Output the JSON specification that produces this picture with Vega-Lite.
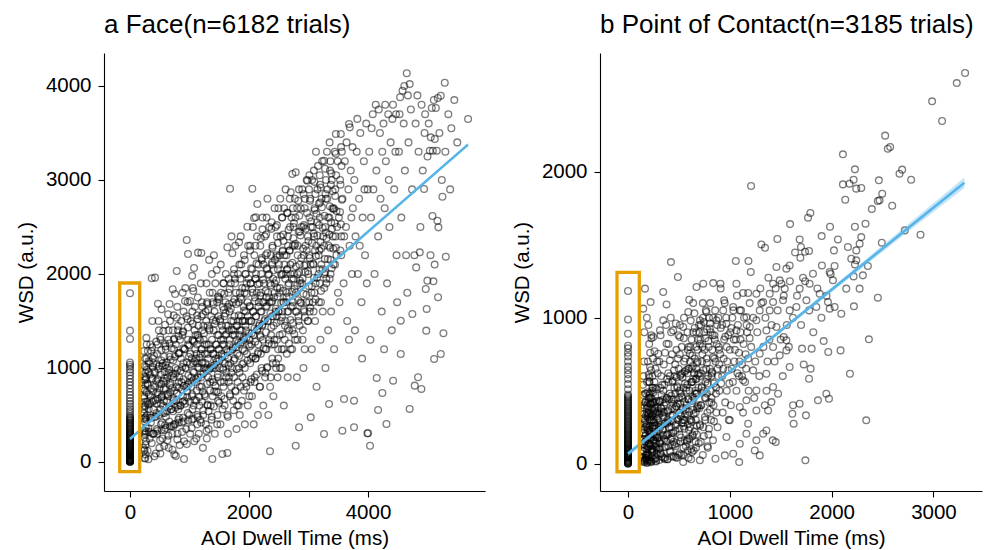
{
"$schema":"https://vega.github.io/schema/vega-lite/v6.json",
"background":"white",
"padding":{"left":16,"top":12,"right":5,"bottom":0},
"spacing":27,
"config":{"view":{"stroke":null},
"axis":{"grid":false,"format":"d","domainColor":"black","tickColor":"black","labelColor":"black","titleColor":"black","labelFont":"Liberation Sans","titleFont":"Liberation Sans","labelFontSize":20.5,"titleFontSize":20.5,"titleFontWeight":"normal","tickSize":6,"domainWidth":1.1,"tickWidth":1.1},
"axisX":{"labelPadding":5,"titlePadding":6},
"axisY":{"labelPadding":7,"titlePadding":9},
"title":{"font":"Liberation Sans","fontSize":26,"fontWeight":"normal","color":"black","anchor":"start","frame":"group","offset":15,"baseline":"alphabetic"}},
"datasets":{
"a":[
{"x":0,"y":0},{"x":0,"y":4},{"x":0,"y":9},{"x":0,"y":15},{"x":0,"y":22},{"x":0,"y":28},{"x":0,"y":36},{"x":0,"y":44},{"x":0,"y":52},{"x":0,"y":61},{"x":0,"y":70},{"x":0,"y":80},{"x":0,"y":91},{"x":0,"y":103},{"x":0,"y":116},{"x":0,"y":128},{"x":0,"y":141},{"x":0,"y":155},{"x":0,"y":170},{"x":0,"y":184},{"x":0,"y":199},{"x":0,"y":214},{"x":0,"y":230},{"x":0,"y":247},{"x":0,"y":263},{"x":0,"y":280},{"x":0,"y":298},{"x":0,"y":316},{"x":0,"y":335},{"x":0,"y":354},{"x":0,"y":374},{"x":0,"y":395},{"x":0,"y":417},{"x":0,"y":440},{"x":0,"y":462},{"x":0,"y":485},{"x":0,"y":510},{"x":0,"y":536},{"x":0,"y":562},{"x":0,"y":590},{"x":0,"y":618},{"x":0,"y":648},{"x":0,"y":680},{"x":0,"y":712},{"x":0,"y":745},{"x":0,"y":780},{"x":0,"y":815},{"x":0,"y":850},{"x":0,"y":885},{"x":0,"y":920},{"x":0,"y":955},{"x":0,"y":985},{"x":0,"y":1012},{"x":0,"y":1035},{"x":0,"y":1058},{"x":0,"y":1309},{"x":0,"y":1397},{"x":0,"y":1795},
{"x":0,"y":2},{"x":0,"y":7},{"x":0,"y":12},{"x":0,"y":18},{"x":0,"y":25},{"x":0,"y":32},{"x":0,"y":40},{"x":0,"y":48},{"x":0,"y":56},{"x":0,"y":65},{"x":0,"y":75},{"x":0,"y":85},{"x":0,"y":97},{"x":0,"y":109},{"x":0,"y":122},{"x":0,"y":134},{"x":0,"y":148},{"x":0,"y":162},{"x":0,"y":177},{"x":0,"y":191},{"x":0,"y":206},{"x":0,"y":222},{"x":0,"y":238},{"x":0,"y":255},{"x":0,"y":271},{"x":0,"y":289},{"x":0,"y":307},{"x":0,"y":325},{"x":0,"y":344},{"x":0,"y":364},{"x":0,"y":384},{"x":0,"y":406},{"x":0,"y":428},{"x":0,"y":451},{"x":0,"y":473},
{"x":235,"y":120},{"x":250,"y":310},{"x":240,"y":520},{"x":262,"y":80},{"x":255,"y":640},{"x":245,"y":260},{"x":270,"y":900},{"x":238,"y":700},{"x":258,"y":950},{"x":275,"y":1100},{"x":248,"y":430},{"x":242,"y":40},{"x":265,"y":360},{"x":252,"y":760},{"x":280,"y":1250},{"x":236,"y":1180},{"x":260,"y":820},{"x":244,"y":130},{"x":268,"y":220},{"x":239,"y":560},{"x":250,"y":470},{"x":272,"y":1010},{"x":246,"y":870},{"x":257,"y":40},{"x":264,"y":330},
{"x":260,"y":180},{"x":290,"y":640},{"x":320,"y":1050},{"x":350,"y":420},{"x":380,"y":890},{"x":410,"y":60},{"x":440,"y":1280},{"x":470,"y":720},{"x":275,"y":1320},{"x":300,"y":820},{"x":330,"y":250},{"x":360,"y":1180},{"x":395,"y":560},{"x":425,"y":950},{"x":455,"y":300},{"x":485,"y":1400},{"x":265,"y":480},{"x":310,"y":30},{"x":345,"y":700},{"x":375,"y":1500},{"x":405,"y":1130},{"x":435,"y":480},{"x":465,"y":880},{"x":495,"y":150},{"x":285,"y":980},{"x":420,"y":1961},{"x":365,"y":1955},{"x":470,"y":1684},{"x":480,"y":1500},{"x":340,"y":1250},{"x":390,"y":1050},{"x":450,"y":620},{"x":315,"y":560},{"x":400,"y":300},{"x":490,"y":1020},
{"x":510,"y":90},{"x":530,"y":1624},{"x":560,"y":1394},{"x":540,"y":420},{"x":570,"y":780},{"x":600,"y":1200},{"x":630,"y":230},{"x":660,"y":980},{"x":690,"y":560},{"x":720,"y":1400},{"x":745,"y":80},{"x":520,"y":620},{"x":550,"y":1050},{"x":580,"y":340},{"x":610,"y":860},{"x":640,"y":1571},{"x":672,"y":1500},{"x":700,"y":1210},{"x":730,"y":680},{"x":515,"y":1300},{"x":545,"y":250},{"x":575,"y":1120},{"x":605,"y":480},{"x":635,"y":720},{"x":665,"y":1680},{"x":695,"y":380},{"x":725,"y":940},{"x":740,"y":1200},{"x":528,"y":830},{"x":590,"y":1460},{"x":620,"y":1000},{"x":650,"y":150},{"x":680,"y":840},{"x":710,"y":300},{"x":735,"y":1560},{"x":555,"y":600},{"x":585,"y":960},{"x":615,"y":640},{"x":645,"y":1300},{"x":718,"y":1837},
{"x":757,"y":1787},{"x":785,"y":2032},{"x":785,"y":1535},{"x":760,"y":400},{"x":790,"y":800},{"x":820,"y":1150},{"x":850,"y":600},{"x":880,"y":1350},{"x":910,"y":220},{"x":940,"y":1000},{"x":970,"y":1700},{"x":995,"y":500},{"x":770,"y":1250},{"x":800,"y":300},{"x":830,"y":900},{"x":860,"y":1500},{"x":890,"y":700},{"x":920,"y":1200},{"x":950,"y":1550},{"x":980,"y":820},{"x":953,"y":2362},{"x":975,"y":2213},{"x":925,"y":1713},{"x":765,"y":1000},{"x":795,"y":1650},{"x":825,"y":470},{"x":855,"y":1100},{"x":885,"y":1800},{"x":915,"y":650},{"x":945,"y":350},{"x":975,"y":1300},{"x":775,"y":650},{"x":805,"y":1400},{"x":835,"y":180},{"x":865,"y":850},{"x":895,"y":1050},{"x":930,"y":1850},{"x":960,"y":750},{"x":990,"y":1120},{"x":840,"y":1300},{"x":870,"y":420},{"x":900,"y":1600},{"x":908,"y":32},{"x":771,"y":64},{"x":812,"y":560},
{"x":1009,"y":1713},{"x":1064,"y":1819},{"x":1076,"y":2064},{"x":1143,"y":2227},{"x":1199,"y":2223},{"x":1010,"y":300},{"x":1030,"y":900},{"x":1050,"y":1300},{"x":1070,"y":600},{"x":1090,"y":1650},{"x":1110,"y":1100},{"x":1130,"y":400},{"x":1150,"y":1450},{"x":1170,"y":800},{"x":1190,"y":1900},{"x":1210,"y":1200},{"x":1230,"y":550},{"x":1245,"y":1000},{"x":1020,"y":1500},{"x":1040,"y":700},{"x":1060,"y":1050},{"x":1080,"y":220},{"x":1100,"y":1350},{"x":1120,"y":850},{"x":1140,"y":1750},{"x":1160,"y":1000},{"x":1180,"y":450},{"x":1200,"y":1550},{"x":1220,"y":750},{"x":1240,"y":1300},{"x":1015,"y":1150},{"x":1035,"y":450},{"x":1055,"y":1850},{"x":1075,"y":950},{"x":1095,"y":1200},{"x":1115,"y":650},{"x":1135,"y":1050},{"x":1155,"y":300},{"x":1175,"y":1300},{"x":1195,"y":900},{"x":1215,"y":1650},{"x":1235,"y":1450},{"x":1025,"y":800},{"x":1085,"y":1400},{"x":1125,"y":1250},{"x":1165,"y":600},{"x":1205,"y":1050},{"x":1045,"y":1980},{"x":1185,"y":1150},{"x":1225,"y":150},
{"x":1260,"y":700},{"x":1280,"y":1500},{"x":1300,"y":1000},{"x":1320,"y":350},{"x":1340,"y":1800},{"x":1360,"y":1200},{"x":1384,"y":32},{"x":1400,"y":850},{"x":1420,"y":1600},{"x":1440,"y":1100},{"x":1457,"y":2043},{"x":1470,"y":500},{"x":1490,"y":1350},{"x":1255,"y":1250},{"x":1275,"y":400},{"x":1295,"y":1700},{"x":1315,"y":900},{"x":1335,"y":1400},{"x":1355,"y":600},{"x":1375,"y":2000},{"x":1395,"y":1150},{"x":1415,"y":750},{"x":1435,"y":1900},{"x":1455,"y":1250},{"x":1475,"y":900},{"x":1495,"y":1750},{"x":1265,"y":1050},{"x":1285,"y":1900},{"x":1305,"y":600},{"x":1325,"y":1250},{"x":1345,"y":850},{"x":1365,"y":1550},{"x":1385,"y":1000},{"x":1405,"y":1400},{"x":1425,"y":300},{"x":1445,"y":1500},{"x":1465,"y":1700},{"x":1485,"y":1100},{"x":1270,"y":1600},{"x":1310,"y":1150},{"x":1350,"y":1000},{"x":1390,"y":1700},{"x":1430,"y":1000},{"x":1480,"y":650},{"x":1290,"y":250},{"x":1330,"y":2150},{"x":1370,"y":450},{"x":1410,"y":2200},{"x":1450,"y":750},{"x":1498,"y":1200},
{"x":1510,"y":1000},{"x":1530,"y":1800},{"x":1552,"y":85},{"x":1570,"y":1300},{"x":1590,"y":600},{"x":1610,"y":2000},{"x":1636,"y":2284},{"x":1636,"y":96},{"x":1650,"y":1100},{"x":1670,"y":1600},{"x":1681,"y":2907},{"x":1700,"y":800},{"x":1720,"y":2220},{"x":1740,"y":1400},{"x":1515,"y":1500},{"x":1535,"y":700},{"x":1555,"y":1250},{"x":1575,"y":1900},{"x":1595,"y":1050},{"x":1615,"y":1450},{"x":1635,"y":500},{"x":1655,"y":1800},{"x":1675,"y":1250},{"x":1695,"y":1900},{"x":1715,"y":1000},{"x":1735,"y":1700},{"x":1745,"y":550},{"x":1520,"y":400},{"x":1540,"y":1150},{"x":1560,"y":1650},{"x":1580,"y":850},{"x":1600,"y":1350},{"x":1620,"y":950},{"x":1640,"y":1650},{"x":1660,"y":1400},{"x":1680,"y":700},{"x":1700,"y":1500},{"x":1725,"y":1200},{"x":1748,"y":2000},{"x":1525,"y":2100},{"x":1565,"y":1000},{"x":1605,"y":1700},{"x":1645,"y":300},{"x":1685,"y":1050},{"x":1705,"y":2400},{"x":1545,"y":1450},{"x":1585,"y":1550},{"x":1625,"y":1200},{"x":1665,"y":900},{"x":1730,"y":1350},
{"x":1760,"y":1100},{"x":1780,"y":1800},{"x":1800,"y":600},{"x":1820,"y":1500},{"x":1832,"y":2337},{"x":1850,"y":1250},{"x":1870,"y":2100},{"x":1890,"y":900},{"x":1910,"y":1650},{"x":1930,"y":400},{"x":1950,"y":1400},{"x":1972,"y":2503},{"x":1990,"y":1950},{"x":1755,"y":1550},{"x":1775,"y":750},{"x":1795,"y":1300},{"x":1815,"y":2000},{"x":1835,"y":1000},{"x":1855,"y":1750},{"x":1875,"y":1400},{"x":1895,"y":1200},{"x":1915,"y":2200},{"x":1935,"y":1500},{"x":1955,"y":800},{"x":1975,"y":1700},{"x":1995,"y":1250},{"x":1765,"y":1950},{"x":1785,"y":1450},{"x":1805,"y":1150},{"x":1825,"y":1700},{"x":1845,"y":500},{"x":1865,"y":1550},{"x":1885,"y":1850},{"x":1905,"y":1050},{"x":1925,"y":1800},{"x":1945,"y":1600},{"x":1965,"y":1150},{"x":1985,"y":2300},{"x":1770,"y":2300},{"x":1810,"y":850},{"x":1860,"y":2400},{"x":1900,"y":1500},{"x":1940,"y":2000},{"x":1980,"y":600},{"x":1790,"y":350},{"x":1840,"y":1350},{"x":1880,"y":650},{"x":1920,"y":1300},{"x":1960,"y":1900},{"x":1998,"y":1500},
{"x":2056,"y":2907},{"x":2140,"y":2745},{"x":2113,"y":2603},{"x":2085,"y":2596},{"x":2226,"y":2475},{"x":2010,"y":1300},{"x":2030,"y":1900},{"x":2050,"y":700},{"x":2070,"y":1600},{"x":2090,"y":2200},{"x":2110,"y":1100},{"x":2130,"y":1800},{"x":2150,"y":500},{"x":2170,"y":1450},{"x":2190,"y":2300},{"x":2210,"y":1000},{"x":2230,"y":1700},{"x":2245,"y":2100},{"x":2015,"y":1650},{"x":2035,"y":1100},{"x":2055,"y":2050},{"x":2075,"y":1350},{"x":2095,"y":900},{"x":2115,"y":1550},{"x":2135,"y":2400},{"x":2155,"y":1250},{"x":2175,"y":1900},{"x":2195,"y":1600},{"x":2215,"y":2150},{"x":2235,"y":1300},{"x":2020,"y":2300},{"x":2040,"y":1500},{"x":2060,"y":1800},{"x":2080,"y":400},{"x":2100,"y":1750},{"x":2120,"y":2000},{"x":2140,"y":1400},{"x":2160,"y":2100},{"x":2180,"y":800},{"x":2200,"y":1800},{"x":2220,"y":1450},{"x":2240,"y":600},{"x":2025,"y":850},{"x":2065,"y":2500},{"x":2105,"y":1950},{"x":2145,"y":1150},{"x":2185,"y":1350},{"x":2225,"y":2600},{"x":2045,"y":1250},{"x":2165,"y":1700},
{"x":2260,"y":1500},{"x":2280,"y":2200},{"x":2300,"y":1000},{"x":2320,"y":1800},{"x":2340,"y":2500},{"x":2353,"y":114},{"x":2370,"y":1350},{"x":2390,"y":2100},{"x":2410,"y":700},{"x":2430,"y":1900},{"x":2450,"y":1600},{"x":2470,"y":2400},{"x":2490,"y":1200},{"x":2255,"y":1900},{"x":2275,"y":1200},{"x":2295,"y":2600},{"x":2315,"y":1500},{"x":2335,"y":2000},{"x":2355,"y":800},{"x":2375,"y":1700},{"x":2395,"y":2300},{"x":2415,"y":1450},{"x":2435,"y":2150},{"x":2455,"y":1000},{"x":2475,"y":1850},{"x":2495,"y":2700},{"x":2265,"y":2400},{"x":2285,"y":1650},{"x":2305,"y":2050},{"x":2325,"y":500},{"x":2345,"y":1700},{"x":2365,"y":2200},{"x":2385,"y":1550},{"x":2405,"y":1950},{"x":2425,"y":1250},{"x":2445,"y":2500},{"x":2465,"y":1550},{"x":2485,"y":2050},{"x":2270,"y":900},{"x":2310,"y":2800},{"x":2350,"y":1900},{"x":2390,"y":1100},{"x":2430,"y":2700},{"x":2480,"y":900},{"x":2290,"y":1750},{"x":2330,"y":1300},{"x":2380,"y":2550},{"x":2420,"y":1750},{"x":2460,"y":2200},{"x":2498,"y":1600},
{"x":2510,"y":1800},{"x":2530,"y":2400},{"x":2550,"y":1200},{"x":2570,"y":2000},{"x":2590,"y":2700},{"x":2610,"y":1500},{"x":2630,"y":2200},{"x":2650,"y":900},{"x":2670,"y":1900},{"x":2690,"y":2500},{"x":2701,"y":2869},{"x":2728,"y":3064},{"x":2740,"y":1700},{"x":2515,"y":2200},{"x":2535,"y":1500},{"x":2555,"y":2600},{"x":2575,"y":1700},{"x":2595,"y":2100},{"x":2615,"y":2900},{"x":2635,"y":1800},{"x":2655,"y":2400},{"x":2675,"y":1400},{"x":2695,"y":2100},{"x":2715,"y":2600},{"x":2735,"y":2300},{"x":2520,"y":1000},{"x":2540,"y":2000},{"x":2560,"y":1600},{"x":2580,"y":2350},{"x":2600,"y":1300},{"x":2620,"y":2000},{"x":2640,"y":2650},{"x":2660,"y":1600},{"x":2680,"y":2250},{"x":2700,"y":1200},{"x":2720,"y":1950},{"x":2745,"y":2500},{"x":2525,"y":2800},{"x":2585,"y":600},{"x":2645,"y":2050},{"x":2705,"y":1650},{"x":2565,"y":2250},{"x":2625,"y":1700},{"x":2685,"y":2800},{"x":2730,"y":1400},
{"x":2785,"y":3082},{"x":2785,"y":173},{"x":2841,"y":369},{"x":2980,"y":2993},{"x":2760,"y":2000},{"x":2780,"y":2600},{"x":2800,"y":1600},{"x":2820,"y":2300},{"x":2840,"y":2900},{"x":2860,"y":1900},{"x":2880,"y":2500},{"x":2900,"y":1300},{"x":2920,"y":2200},{"x":2940,"y":2800},{"x":2960,"y":1700},{"x":2990,"y":2400},{"x":2765,"y":2300},{"x":2790,"y":1800},{"x":2810,"y":2700},{"x":2830,"y":1500},{"x":2850,"y":2100},{"x":2870,"y":2700},{"x":2890,"y":1900},{"x":2910,"y":2500},{"x":2930,"y":1600},{"x":2950,"y":2300},{"x":2970,"y":3000},{"x":2995,"y":2000},{"x":2775,"y":1300},{"x":2815,"y":2000},{"x":2855,"y":2450},{"x":2895,"y":2900},{"x":2935,"y":1200},{"x":2975,"y":2650},{"x":2805,"y":900},{"x":2865,"y":1700},{"x":2915,"y":1000},{"x":2955,"y":2100},{"x":2770,"y":2800},{"x":2985,"y":1500},
{"x":3037,"y":475},{"x":3010,"y":2200},{"x":3030,"y":2800},{"x":3050,"y":1800},{"x":3070,"y":2500},{"x":3090,"y":3100},{"x":3110,"y":1500},{"x":3130,"y":2300},{"x":3150,"y":2900},{"x":3170,"y":2000},{"x":3190,"y":2600},{"x":3210,"y":1700},{"x":3230,"y":3200},{"x":3245,"y":2400},{"x":3020,"y":1600},{"x":3040,"y":2500},{"x":3060,"y":3000},{"x":3080,"y":2100},{"x":3100,"y":2700},{"x":3120,"y":1900},{"x":3140,"y":2550},{"x":3160,"y":3150},{"x":3180,"y":2250},{"x":3200,"y":1300},{"x":3220,"y":2800},{"x":3015,"y":3050},{"x":3055,"y":1200},{"x":3095,"y":2400},{"x":3135,"y":800},{"x":3175,"y":2750},{"x":3215,"y":2100},{"x":3240,"y":1600},{"x":3075,"y":1700},{"x":3195,"y":2950},{"x":3125,"y":3300},
{"x":3261,"y":3205},{"x":3261,"y":298},{"x":3345,"y":617},{"x":3280,"y":2500},{"x":3300,"y":1900},{"x":3320,"y":2900},{"x":3340,"y":2300},{"x":3360,"y":3100},{"x":3380,"y":1600},{"x":3400,"y":2700},{"x":3420,"y":2100},{"x":3440,"y":3300},{"x":3459,"y":3489},{"x":3480,"y":2500},{"x":3495,"y":1800},{"x":3270,"y":2000},{"x":3290,"y":2800},{"x":3310,"y":3300},{"x":3330,"y":1400},{"x":3350,"y":2600},{"x":3370,"y":2000},{"x":3390,"y":3000},{"x":3410,"y":2400},{"x":3430,"y":1200},{"x":3450,"y":2900},{"x":3470,"y":2200},{"x":3490,"y":3200},{"x":3285,"y":1000},{"x":3355,"y":3400},{"x":3425,"y":2700},
{"x":3543,"y":3489},{"x":3569,"y":333},{"x":3597,"y":670},{"x":3681,"y":3596},{"x":3694,"y":3560},{"x":3510,"y":2600},{"x":3530,"y":3000},{"x":3550,"y":2200},{"x":3570,"y":2800},{"x":3590,"y":1900},{"x":3610,"y":3200},{"x":3630,"y":2500},{"x":3650,"y":1500},{"x":3670,"y":2900},{"x":3690,"y":2300},{"x":3710,"y":3100},{"x":3730,"y":2000},{"x":3745,"y":2700},{"x":3520,"y":1700},{"x":3560,"y":3300},{"x":3600,"y":2400},{"x":3640,"y":3400},{"x":3680,"y":1300},{"x":3720,"y":2600},{"x":3740,"y":3350},
{"x":3765,"y":369},{"x":3765,"y":652},{"x":3989,"y":305},{"x":3770,"y":3000},{"x":3790,"y":2400},{"x":3810,"y":3300},{"x":3830,"y":2000},{"x":3850,"y":2800},{"x":3870,"y":3500},{"x":3890,"y":1700},{"x":3910,"y":2600},{"x":3930,"y":3200},{"x":3950,"y":2200},{"x":3970,"y":3600},{"x":3995,"y":2900},{"x":3780,"y":1400},{"x":3820,"y":3650},{"x":3860,"y":2300},{"x":3900,"y":1100},{"x":3940,"y":2900},{"x":3980,"y":1900},
{"x":4001,"y":305},{"x":4034,"y":173},{"x":4146,"y":894},{"x":4169,"y":553},{"x":4241,"y":734},{"x":4020,"y":3300},{"x":4050,"y":2600},{"x":4080,"y":3700},{"x":4110,"y":2000},{"x":4140,"y":3100},{"x":4170,"y":2400},{"x":4200,"y":3500},{"x":4230,"y":1600},{"x":4040,"y":1300},{"x":4090,"y":2900},{"x":4130,"y":3800},{"x":4180,"y":3750},{"x":4210,"y":2800},{"x":4240,"y":3300},{"x":4060,"y":3550},
{"x":4310,"y":404},{"x":4422,"y":865},{"x":4260,"y":3600},{"x":4280,"y":2700},{"x":4300,"y":3200},{"x":4320,"y":1900},{"x":4340,"y":3700},{"x":4360,"y":2500},{"x":4380,"y":3400},{"x":4400,"y":1400},{"x":4420,"y":3800},{"x":4440,"y":2900},{"x":4460,"y":3300},{"x":4480,"y":2200},{"x":4270,"y":1200},{"x":4350,"y":3000},{"x":4410,"y":3650},{"x":4470,"y":3700},{"x":4490,"y":1700},{"x":4290,"y":3800},
{"x":4550,"y":1149},{"x":4550,"y":1503},{"x":4700,"y":564},{"x":4745,"y":1574},{"x":4651,"y":4135},{"x":4540,"y":3880},{"x":4580,"y":3950},{"x":4610,"y":4000},{"x":4670,"y":3900},{"x":4700,"y":4020},{"x":4520,"y":3300},{"x":4560,"y":2600},{"x":4600,"y":3600},{"x":4640,"y":2200},{"x":4680,"y":3400},{"x":4720,"y":3750},{"x":4740,"y":2900},{"x":4530,"y":3700},{"x":4620,"y":3100},{"x":4660,"y":1800},
{"x":4785,"y":812},{"x":4841,"y":901},{"x":4897,"y":777},{"x":4942,"y":2904},{"x":4970,"y":1840},{"x":4979,"y":1397},{"x":4986,"y":1628},{"x":4998,"y":1929},{"x":4800,"y":3600},{"x":4850,"y":3300},{"x":4900,"y":3800},{"x":4950,"y":3500},{"x":4780,"y":2200},{"x":4830,"y":3900},{"x":4880,"y":2500},{"x":4920,"y":3100},{"x":4960,"y":3700},{"x":4810,"y":2070},{"x":4870,"y":2230},
{"x":5038,"y":3312},{"x":5055,"y":3454},{"x":5089,"y":3312},{"x":5106,"y":3851},{"x":5122,"y":3436},{"x":5140,"y":3766},{"x":5072,"y":3766},{"x":5156,"y":3312},{"x":5173,"y":3872},{"x":5223,"y":3897},{"x":5083,"y":2617},{"x":5167,"y":2567},{"x":5183,"y":2496},{"x":5099,"y":1922},{"x":5177,"y":1752},{"x":5223,"y":1149},{"x":5111,"y":1096},{"x":5000,"y":3250},{"x":5050,"y":2200},{"x":5120,"y":2100},{"x":5200,"y":3500},{"x":5240,"y":3000},{"x":5020,"y":3600},
{"x":5250,"y":2822},{"x":5290,"y":4035},{"x":5307,"y":2184},{"x":5267,"y":1369},{"x":5682,"y":3649},{"x":5350,"y":3700},{"x":5400,"y":3550},{"x":5300,"y":3300},{"x":5450,"y":3850},{"x":5380,"y":2900},{"x":5500,"y":3400},
{"x":225,"y":150},{"x":240,"y":330},{"x":232,"y":460},{"x":248,"y":590},{"x":236,"y":680},{"x":228,"y":780},{"x":244,"y":910},{"x":252,"y":1100},
{"x":295,"y":120},{"x":310,"y":360},{"x":288,"y":500},{"x":305,"y":610},{"x":318,"y":720},{"x":292,"y":830},{"x":312,"y":960},{"x":300,"y":1180},
{"x":365,"y":200},{"x":380,"y":300},{"x":360,"y":470},{"x":375,"y":640},{"x":388,"y":750},{"x":368,"y":880},{"x":382,"y":1010},{"x":372,"y":1220},
{"x":435,"y":90},{"x":452,"y":350},{"x":445,"y":520},{"x":430,"y":660},{"x":458,"y":740},{"x":440,"y":860},{"x":448,"y":1040},{"x":462,"y":1250},
{"x":505,"y":230},{"x":520,"y":400},{"x":512,"y":560},{"x":530,"y":690},{"x":498,"y":780},{"x":515,"y":930},{"x":525,"y":1080},{"x":508,"y":1330},
{"x":575,"y":170},{"x":590,"y":390},{"x":585,"y":520},{"x":570,"y":650},{"x":600,"y":770},{"x":578,"y":890},{"x":595,"y":1030},{"x":588,"y":1260},
{"x":645,"y":280},{"x":660,"y":430},{"x":655,"y":590},{"x":640,"y":700},{"x":670,"y":820},{"x":650,"y":950},{"x":665,"y":1120},{"x":648,"y":1400},
{"x":715,"y":130},{"x":730,"y":380},{"x":722,"y":540},{"x":740,"y":660},{"x":710,"y":790},{"x":735,"y":900},{"x":725,"y":1080},{"x":745,"y":1310},
{"x":795,"y":240},{"x":810,"y":450},{"x":805,"y":600},{"x":790,"y":730},{"x":820,"y":850},{"x":798,"y":980},{"x":815,"y":1160},{"x":808,"y":1450},
{"x":875,"y":320},{"x":890,"y":470},{"x":885,"y":640},{"x":870,"y":770},{"x":900,"y":880},{"x":878,"y":1010},{"x":895,"y":1210},{"x":888,"y":1380},
{"x":955,"y":190},{"x":970,"y":520},{"x":962,"y":690},{"x":950,"y":800},{"x":980,"y":920},{"x":958,"y":1060},{"x":975,"y":1250},{"x":968,"y":1520},
{"x":1035,"y":360},{"x":1050,"y":560},{"x":1045,"y":720},{"x":1030,"y":850},{"x":1060,"y":960},{"x":1038,"y":1100},{"x":1055,"y":1290},{"x":1048,"y":1600},
{"x":1115,"y":250},{"x":1130,"y":500},{"x":1125,"y":760},{"x":1110,"y":880},{"x":1140,"y":1010},{"x":1118,"y":1150},{"x":1135,"y":1350},{"x":1128,"y":1560},
{"x":1195,"y":420},{"x":1210,"y":640},{"x":1205,"y":800},{"x":1190,"y":930},{"x":1220,"y":1060},{"x":1198,"y":1200},{"x":1215,"y":1400},{"x":1208,"y":1700},
{"x":1285,"y":330},{"x":1300,"y":610},{"x":1295,"y":830},{"x":1280,"y":980},{"x":1310,"y":1100},{"x":1288,"y":1250},{"x":1305,"y":1450},{"x":1298,"y":1680},
{"x":1375,"y":480},{"x":1390,"y":700},{"x":1385,"y":880},{"x":1370,"y":1020},{"x":1400,"y":1150},{"x":1378,"y":1300},{"x":1395,"y":1510},{"x":1388,"y":1800},
{"x":1465,"y":400},{"x":1480,"y":740},{"x":1475,"y":930},{"x":1460,"y":1070},{"x":1490,"y":1200},{"x":1468,"y":1350},{"x":1485,"y":1550},{"x":1478,"y":1760},
{"x":1555,"y":560},{"x":1570,"y":800},{"x":1565,"y":980},{"x":1550,"y":1120},{"x":1580,"y":1250},{"x":1558,"y":1400},{"x":1575,"y":1620},{"x":1568,"y":1900},
{"x":1645,"y":480},{"x":1660,"y":850},{"x":1655,"y":1030},{"x":1640,"y":1170},{"x":1670,"y":1300},{"x":1648,"y":1450},{"x":1665,"y":1680},{"x":1658,"y":1950},
{"x":1735,"y":650},{"x":1750,"y":900},{"x":1745,"y":1080},{"x":1730,"y":1220},{"x":1760,"y":1350},{"x":1738,"y":1500},{"x":1755,"y":1730},{"x":1748,"y":2050},
{"x":1825,"y":600},{"x":1840,"y":950},{"x":1835,"y":1130},{"x":1820,"y":1270},{"x":1850,"y":1400},{"x":1828,"y":1560},{"x":1845,"y":1800},{"x":1838,"y":2100},
{"x":1915,"y":760},{"x":1930,"y":1000},{"x":1925,"y":1180},{"x":1910,"y":1320},{"x":1940,"y":1450},{"x":1918,"y":1610},{"x":1935,"y":1850},{"x":1928,"y":2150},
{"x":2005,"y":700},{"x":2020,"y":1050},{"x":2015,"y":1230},{"x":2000,"y":1370},{"x":2030,"y":1500},{"x":2008,"y":1660},{"x":2025,"y":1900},{"x":2018,"y":2250},
{"x":2095,"y":850},{"x":2110,"y":1100},{"x":2105,"y":1280},{"x":2090,"y":1420},{"x":2120,"y":1550},{"x":2098,"y":1710},{"x":2115,"y":1950},{"x":2108,"y":2300},
{"x":2185,"y":800},{"x":2200,"y":1150},{"x":2195,"y":1330},{"x":2180,"y":1470},{"x":2210,"y":1600},{"x":2188,"y":1770},{"x":2205,"y":2000},{"x":2198,"y":2380},
{"x":2275,"y":950},{"x":2290,"y":1200},{"x":2285,"y":1380},{"x":2270,"y":1520},{"x":2300,"y":1660},{"x":2278,"y":1820},{"x":2295,"y":2060},{"x":2288,"y":2420},
{"x":2365,"y":900},{"x":2380,"y":1250},{"x":2375,"y":1430},{"x":2360,"y":1580},{"x":2390,"y":1710},{"x":2368,"y":1880},{"x":2385,"y":2120},{"x":2378,"y":2480},
{"x":2455,"y":1050},{"x":2470,"y":1300},{"x":2465,"y":1480},{"x":2450,"y":1630},{"x":2480,"y":1760},{"x":2458,"y":1930},{"x":2475,"y":2180},{"x":2468,"y":2520},
{"x":2545,"y":1000},{"x":2560,"y":1360},{"x":2555,"y":1540},{"x":2540,"y":1690},{"x":2570,"y":1820},{"x":2548,"y":1990},{"x":2565,"y":2240},{"x":2558,"y":2600},
{"x":2635,"y":1150},{"x":2650,"y":1420},{"x":2645,"y":1600},{"x":2630,"y":1750},{"x":2660,"y":1880},{"x":2638,"y":2050},{"x":2655,"y":2300},{"x":2648,"y":2650},
{"x":2725,"y":1200},{"x":2740,"y":1480},{"x":2735,"y":1660},{"x":2720,"y":1810},{"x":2750,"y":1950},{"x":2728,"y":2120},{"x":2745,"y":2380},{"x":2738,"y":2700},
{"x":2815,"y":1300},{"x":2830,"y":1550},{"x":2825,"y":1720},{"x":2810,"y":1880},{"x":2840,"y":2020},{"x":2818,"y":2200},{"x":2835,"y":2450},{"x":2828,"y":2780},
{"x":2905,"y":1400},{"x":2920,"y":1620},{"x":2915,"y":1790},{"x":2900,"y":1950},{"x":2930,"y":2090},{"x":2908,"y":2270},{"x":2925,"y":2520},{"x":2918,"y":2850},
{"x":2995,"y":1500},{"x":3010,"y":1700},{"x":3005,"y":1870},{"x":2990,"y":2030},{"x":3020,"y":2170},{"x":2998,"y":2350},{"x":3015,"y":2600},{"x":3008,"y":2900},
{"x":3085,"y":1600},{"x":3100,"y":1800},{"x":3095,"y":1960},{"x":3080,"y":2110},{"x":3110,"y":2250},{"x":3088,"y":2430},{"x":3105,"y":2680},{"x":3098,"y":2980},
{"x":3175,"y":1700},{"x":3190,"y":1900},{"x":3185,"y":2050},{"x":3170,"y":2200},{"x":3200,"y":2340},{"x":3178,"y":2520},{"x":3195,"y":2760},{"x":3188,"y":3050},
{"x":3265,"y":1850},{"x":3280,"y":2020},{"x":3275,"y":2160},{"x":3260,"y":2300},{"x":3290,"y":2440},{"x":3268,"y":2620},{"x":3285,"y":2850},{"x":3278,"y":3120},
{"x":3355,"y":1950},{"x":3370,"y":2150},{"x":3365,"y":2280},{"x":3350,"y":2420},{"x":3380,"y":2550},{"x":3358,"y":2720},{"x":3375,"y":2950},{"x":3368,"y":3200},
{"x":3445,"y":2100},{"x":3460,"y":2280},{"x":3455,"y":2400},{"x":3440,"y":2540},{"x":3470,"y":2670},{"x":3448,"y":2830},{"x":3465,"y":3050},{"x":3458,"y":3280},
{"x":3535,"y":2250},{"x":3550,"y":2400},{"x":3545,"y":2530},{"x":3530,"y":2660},{"x":3560,"y":2790},{"x":3538,"y":2950},{"x":3555,"y":3150},{"x":3548,"y":3350},
{"x":250,"y":290},{"x":275,"y":450},{"x":255,"y":600},{"x":280,"y":740},{"x":265,"y":880},{"x":245,"y":1020},
{"x":320,"y":320},{"x":345,"y":470},{"x":325,"y":620},{"x":350,"y":780},{"x":335,"y":930},{"x":315,"y":1070},
{"x":390,"y":300},{"x":415,"y":480},{"x":395,"y":650},{"x":420,"y":800},{"x":405,"y":960},{"x":385,"y":1100},
{"x":460,"y":330},{"x":485,"y":500},{"x":465,"y":670},{"x":490,"y":830},{"x":475,"y":990},{"x":455,"y":1150},
{"x":530,"y":340},{"x":555,"y":520},{"x":535,"y":700},{"x":560,"y":860},{"x":545,"y":1020},{"x":525,"y":1190},
{"x":600,"y":360},{"x":625,"y":540},{"x":605,"y":720},{"x":630,"y":900},{"x":615,"y":1060},{"x":595,"y":1230},
{"x":670,"y":380},{"x":695,"y":560},{"x":675,"y":740},{"x":700,"y":920},{"x":685,"y":1090},{"x":665,"y":1260},
{"x":740,"y":400},{"x":765,"y":580},{"x":745,"y":760},{"x":770,"y":940},{"x":755,"y":1120},{"x":735,"y":1300},
{"x":820,"y":420},{"x":845,"y":600},{"x":825,"y":790},{"x":850,"y":970},{"x":835,"y":1160},{"x":815,"y":1340},
{"x":900,"y":430},{"x":925,"y":620},{"x":905,"y":810},{"x":930,"y":1000},{"x":915,"y":1200},{"x":895,"y":1390},
{"x":980,"y":440},{"x":1005,"y":640},{"x":985,"y":840},{"x":1010,"y":1040},{"x":995,"y":1240},{"x":975,"y":1430},
{"x":1060,"y":460},{"x":1085,"y":660},{"x":1065,"y":870},{"x":1090,"y":1070},{"x":1075,"y":1280},{"x":1055,"y":1470},
{"x":1140,"y":480},{"x":1165,"y":690},{"x":1145,"y":900},{"x":1170,"y":1110},{"x":1155,"y":1320},{"x":1135,"y":1520},
{"x":1230,"y":500},{"x":1255,"y":720},{"x":1235,"y":940},{"x":1260,"y":1150},{"x":1245,"y":1370},{"x":1225,"y":1570},
{"x":1320,"y":540},{"x":1345,"y":760},{"x":1325,"y":980},{"x":1350,"y":1200},{"x":1335,"y":1420},{"x":1315,"y":1620},
{"x":1410,"y":590},{"x":1435,"y":810},{"x":1415,"y":1030},{"x":1440,"y":1250},{"x":1425,"y":1470},{"x":1405,"y":1680},
{"x":1500,"y":630},{"x":1525,"y":850},{"x":1505,"y":1080},{"x":1530,"y":1300},{"x":1515,"y":1520},{"x":1495,"y":1730},
{"x":1590,"y":670},{"x":1615,"y":900},{"x":1595,"y":1130},{"x":1620,"y":1360},{"x":1605,"y":1580},{"x":1585,"y":1790},
{"x":1680,"y":720},{"x":1705,"y":950},{"x":1685,"y":1180},{"x":1710,"y":1410},{"x":1695,"y":1630},{"x":1675,"y":1840},
{"x":1770,"y":760},{"x":1795,"y":990},{"x":1775,"y":1220},{"x":1800,"y":1450},{"x":1785,"y":1680},{"x":1765,"y":1900},
{"x":1860,"y":800},{"x":1885,"y":1040},{"x":1865,"y":1270},{"x":1890,"y":1500},{"x":1875,"y":1730},{"x":1855,"y":1950},
{"x":1950,"y":840},{"x":1975,"y":1080},{"x":1955,"y":1320},{"x":1980,"y":1550},{"x":1965,"y":1790},{"x":1945,"y":2000},
{"x":2040,"y":880},{"x":2065,"y":1120},{"x":2045,"y":1370},{"x":2070,"y":1600},{"x":2055,"y":1840},{"x":2035,"y":2060},
{"x":2130,"y":930},{"x":2155,"y":1170},{"x":2135,"y":1410},{"x":2160,"y":1650},{"x":2145,"y":1890},{"x":2125,"y":2110},
{"x":2220,"y":970},{"x":2245,"y":1210},{"x":2225,"y":1460},{"x":2250,"y":1700},{"x":2235,"y":1940},{"x":2215,"y":2170},
{"x":2310,"y":1010},{"x":2335,"y":1260},{"x":2315,"y":1500},{"x":2340,"y":1750},{"x":2325,"y":1990},{"x":2305,"y":2220},
{"x":2400,"y":1050},{"x":2425,"y":1300},{"x":2405,"y":1550},{"x":2430,"y":1800},{"x":2415,"y":2040},{"x":2395,"y":2280},
{"x":2490,"y":1100},{"x":2515,"y":1350},{"x":2495,"y":1600},{"x":2520,"y":1850},{"x":2505,"y":2100},{"x":2485,"y":2330},
{"x":2580,"y":1200},{"x":2605,"y":1450},{"x":2585,"y":1700},{"x":2610,"y":1950},{"x":2595,"y":2200},{"x":2575,"y":2420},
{"x":2670,"y":1260},{"x":2695,"y":1510},{"x":2675,"y":1760},{"x":2700,"y":2000},{"x":2685,"y":2250},{"x":2665,"y":2470},
{"x":2760,"y":1360},{"x":2785,"y":1600},{"x":2765,"y":1840},{"x":2790,"y":2080},{"x":2775,"y":2320},{"x":2755,"y":2540},
{"x":2850,"y":1450},{"x":2875,"y":1690},{"x":2855,"y":1930},{"x":2880,"y":2170},{"x":2865,"y":2410},{"x":2845,"y":2620},
{"x":2940,"y":1540},{"x":2965,"y":1780},{"x":2945,"y":2020},{"x":2970,"y":2250},{"x":2955,"y":2480},{"x":2935,"y":2700},
{"x":3030,"y":1640},{"x":3055,"y":1870},{"x":3035,"y":2100},{"x":3060,"y":2330},{"x":3045,"y":2560},{"x":3025,"y":2780},
{"x":3120,"y":1730},{"x":3145,"y":1960},{"x":3125,"y":2190},{"x":3150,"y":2410},{"x":3135,"y":2640},{"x":3115,"y":2850},
{"x":3210,"y":1820},{"x":3235,"y":2050},{"x":3215,"y":2270},{"x":3240,"y":2490},{"x":3225,"y":2710},{"x":3205,"y":2920},
{"x":3300,"y":1950},{"x":3325,"y":2160},{"x":3305,"y":2380},{"x":3330,"y":2600},{"x":3315,"y":2800},{"x":3295,"y":3000},
{"x":3390,"y":2060},{"x":3415,"y":2270},{"x":3395,"y":2480},{"x":3420,"y":2690},{"x":3405,"y":2880},{"x":3385,"y":3070}
],
"b":[
{"x":0,"y":0},{"x":0,"y":4},{"x":0,"y":9},{"x":0,"y":14},{"x":0,"y":20},{"x":0,"y":27},{"x":0,"y":35},{"x":0,"y":42},{"x":0,"y":50},{"x":0,"y":58},{"x":0,"y":66},{"x":0,"y":75},{"x":0,"y":84},{"x":0,"y":93},{"x":0,"y":103},{"x":0,"y":113},{"x":0,"y":124},{"x":0,"y":135},{"x":0,"y":146},{"x":0,"y":158},{"x":0,"y":170},{"x":0,"y":183},{"x":0,"y":196},{"x":0,"y":210},{"x":0,"y":224},{"x":0,"y":238},{"x":0,"y":252},{"x":0,"y":267},{"x":0,"y":282},{"x":0,"y":298},{"x":0,"y":314},{"x":0,"y":330},{"x":0,"y":347},{"x":0,"y":364},{"x":0,"y":381},{"x":0,"y":399},{"x":0,"y":417},{"x":0,"y":436},{"x":0,"y":455},{"x":0,"y":474},{"x":0,"y":510},{"x":0,"y":545},{"x":0,"y":580},{"x":0,"y":612},{"x":0,"y":640},{"x":0,"y":665},{"x":0,"y":700},{"x":0,"y":735},{"x":0,"y":760},{"x":0,"y":790},{"x":0,"y":808},{"x":0,"y":890},{"x":0,"y":988},{"x":0,"y":1183},
{"x":0,"y":2},{"x":0,"y":6},{"x":0,"y":11},{"x":0,"y":17},{"x":0,"y":23},{"x":0,"y":31},{"x":0,"y":38},{"x":0,"y":46},{"x":0,"y":54},{"x":0,"y":62},{"x":0,"y":70},{"x":0,"y":79},{"x":0,"y":88},{"x":0,"y":98},{"x":0,"y":108},{"x":0,"y":118},{"x":0,"y":129},{"x":0,"y":140},{"x":0,"y":152},{"x":0,"y":164},{"x":0,"y":176},{"x":0,"y":189},{"x":0,"y":203},{"x":0,"y":217},{"x":0,"y":231},{"x":0,"y":245},{"x":0,"y":260},{"x":0,"y":274},{"x":0,"y":290},{"x":0,"y":306},{"x":0,"y":322},{"x":0,"y":338},{"x":0,"y":355},{"x":0,"y":372},{"x":0,"y":390},{"x":0,"y":408},{"x":0,"y":426},{"x":0,"y":445},{"x":0,"y":464},
{"x":160,"y":10},{"x":175,"y":60},{"x":190,"y":120},{"x":205,"y":30},{"x":220,"y":200},{"x":235,"y":80},{"x":250,"y":300},{"x":265,"y":150},{"x":275,"y":20},{"x":170,"y":250},{"x":185,"y":380},{"x":200,"y":180},{"x":215,"y":450},{"x":230,"y":15},{"x":245,"y":520},{"x":260,"y":260},{"x":270,"y":650},{"x":165,"y":130},{"x":195,"y":700},{"x":225,"y":350},{"x":255,"y":90},{"x":180,"y":40},{"x":240,"y":420},{"x":210,"y":560},{"x":280,"y":200},{"x":230,"y":860},{"x":260,"y":770},
{"x":145,"y":90},{"x":152,"y":210},{"x":158,"y":340},{"x":164,"y":20},{"x":172,"y":150},{"x":178,"y":480},{"x":184,"y":260},{"x":190,"y":70},{"x":198,"y":390},{"x":204,"y":610},{"x":210,"y":130},{"x":216,"y":300},{"x":148,"y":540},{"x":168,"y":420},{"x":186,"y":5},{"x":208,"y":220},{"x":194,"y":330},{"x":176,"y":40},{"x":212,"y":470},{"x":156,"y":170},
{"x":150,"y":40},{"x":162,"y":280},{"x":168,"y":150},{"x":174,"y":420},{"x":180,"y":60},{"x":188,"y":560},{"x":194,"y":230},{"x":200,"y":350},{"x":208,"y":20},{"x":214,"y":480},{"x":220,"y":130},{"x":226,"y":640},{"x":234,"y":300},{"x":240,"y":80},{"x":246,"y":420},{"x":158,"y":700},{"x":176,"y":330},{"x":192,"y":10},{"x":210,"y":590},{"x":228,"y":210},{"x":238,"y":520},{"x":248,"y":160},{"x":166,"y":480},{"x":184,"y":250},{"x":202,"y":120},{"x":218,"y":760},{"x":236,"y":380},{"x":152,"y":600},{"x":172,"y":30},{"x":204,"y":450},
{"x":205,"y":50},{"x":212,"y":300},{"x":218,"y":180},{"x":226,"y":450},{"x":232,"y":100},{"x":240,"y":600},{"x":248,"y":240},{"x":256,"y":30},{"x":262,"y":380},{"x":270,"y":520},{"x":278,"y":140},{"x":286,"y":700},{"x":294,"y":280},{"x":208,"y":820},{"x":216,"y":410},{"x":224,"y":10},{"x":236,"y":330},{"x":244,"y":720},{"x":252,"y":160},{"x":260,"y":560},{"x":268,"y":260},{"x":276,"y":430},{"x":284,"y":70},{"x":292,"y":620},{"x":298,"y":360},{"x":230,"y":880},{"x":250,"y":490},{"x":272,"y":350},{"x":290,"y":180},{"x":210,"y":560},
{"x":305,"y":100},{"x":312,"y":420},{"x":318,"y":250},{"x":326,"y":600},{"x":332,"y":50},{"x":340,"y":330},{"x":348,"y":500},{"x":356,"y":170},{"x":364,"y":760},{"x":372,"y":280},{"x":380,"y":450},{"x":388,"y":30},{"x":396,"y":620},{"x":308,"y":700},{"x":316,"y":140},{"x":324,"y":380},{"x":336,"y":540},{"x":344,"y":230},{"x":352,"y":680},{"x":360,"y":40},{"x":368,"y":420},{"x":376,"y":150},{"x":384,"y":580},{"x":392,"y":300},{"x":398,"y":820},{"x":320,"y":880},{"x":350,"y":350},{"x":375,"y":950},{"x":395,"y":200},{"x":330,"y":470},
{"x":405,"y":250},{"x":412,"y":600},{"x":418,"y":80},{"x":426,"y":440},{"x":432,"y":750},{"x":440,"y":330},{"x":448,"y":150},{"x":456,"y":520},{"x":464,"y":680},{"x":472,"y":270},{"x":480,"y":40},{"x":488,"y":410},{"x":496,"y":880},{"x":408,"y":480},{"x":416,"y":330},{"x":424,"y":900},{"x":436,"y":560},{"x":444,"y":210},{"x":452,"y":640},{"x":460,"y":380},{"x":468,"y":120},{"x":476,"y":780},{"x":484,"y":530},{"x":492,"y":300},{"x":498,"y":650},{"x":420,"y":1000},{"x":470,"y":960},{"x":430,"y":180},{"x":490,"y":720},{"x":450,"y":440},
{"x":505,"y":350},{"x":512,"y":600},{"x":520,"y":180},{"x":528,"y":800},{"x":536,"y":450},{"x":544,"y":280},{"x":552,"y":700},{"x":560,"y":550},{"x":568,"y":120},{"x":576,"y":400},{"x":584,"y":900},{"x":592,"y":650},{"x":598,"y":230},{"x":508,"y":750},{"x":516,"y":480},{"x":524,"y":60},{"x":532,"y":620},{"x":540,"y":380},{"x":548,"y":860},{"x":556,"y":300},{"x":564,"y":720},{"x":572,"y":520},{"x":580,"y":160},{"x":588,"y":780},{"x":596,"y":440},{"x":510,"y":950},{"x":550,"y":1000},{"x":590,"y":330},{"x":530,"y":280},{"x":570,"y":640},
{"x":605,"y":500},{"x":612,"y":800},{"x":618,"y":300},{"x":626,"y":650},{"x":634,"y":200},{"x":640,"y":900},{"x":648,"y":450},{"x":656,"y":720},{"x":664,"y":150},{"x":672,"y":580},{"x":680,"y":380},{"x":688,"y":850},{"x":696,"y":620},{"x":608,"y":250},{"x":616,"y":980},{"x":624,"y":560},{"x":632,"y":740},{"x":644,"y":340},{"x":652,"y":1030},{"x":660,"y":480},{"x":668,"y":800},{"x":676,"y":260},{"x":684,"y":700},{"x":692,"y":520},{"x":698,"y":950},{"x":620,"y":100},{"x":650,"y":620},{"x":690,"y":400},{"x":640,"y":1100},{"x":670,"y":900},
{"x":705,"y":600},{"x":712,"y":850},{"x":720,"y":400},{"x":728,"y":700},{"x":736,"y":1000},{"x":744,"y":500},{"x":752,"y":780},{"x":760,"y":300},{"x":768,"y":650},{"x":776,"y":920},{"x":784,"y":550},{"x":792,"y":800},{"x":798,"y":420},{"x":708,"y":260},{"x":716,"y":950},{"x":724,"y":520},{"x":732,"y":800},{"x":740,"y":640},{"x":748,"y":900},{"x":756,"y":450},{"x":764,"y":1050},{"x":772,"y":720},{"x":780,"y":350},{"x":788,"y":600},{"x":796,"y":1000},{"x":715,"y":150},{"x":760,"y":860},{"x":790,"y":200},{"x":735,"y":1100},{"x":775,"y":480},
{"x":805,"y":650},{"x":812,"y":900},{"x":820,"y":450},{"x":828,"y":780},{"x":836,"y":1000},{"x":844,"y":550},{"x":852,"y":850},{"x":860,"y":700},{"x":868,"y":350},{"x":876,"y":950},{"x":884,"y":600},{"x":892,"y":800},{"x":898,"y":500},{"x":808,"y":1100},{"x":816,"y":300},{"x":824,"y":620},{"x":832,"y":880},{"x":848,"y":720},{"x":856,"y":1050},{"x":864,"y":480},{"x":872,"y":820},{"x":880,"y":250},{"x":888,"y":1000},{"x":896,"y":680},{"x":840,"y":400},
{"x":905,"y":750},{"x":915,"y":550},{"x":925,"y":950},{"x":935,"y":650},{"x":945,"y":850},{"x":955,"y":420},{"x":965,"y":1000},{"x":975,"y":700},{"x":985,"y":880},{"x":995,"y":550},{"x":910,"y":1200},{"x":930,"y":350},{"x":950,"y":1100},{"x":970,"y":800},{"x":990,"y":300},
{"x":1005,"y":900},{"x":1020,"y":650},{"x":1035,"y":1050},{"x":1050,"y":780},{"x":1065,"y":500},{"x":1080,"y":950},{"x":1095,"y":700},{"x":1010,"y":400},{"x":1040,"y":850},{"x":1070,"y":1150},{"x":1090,"y":600},{"x":1025,"y":1000},
{"x":1105,"y":850},{"x":1120,"y":600},{"x":1140,"y":1000},{"x":1155,"y":750},{"x":1170,"y":900},{"x":1185,"y":500},{"x":1195,"y":1100},{"x":1130,"y":350},{"x":1160,"y":650},{"x":1110,"y":1050},
{"x":1210,"y":800},{"x":1230,"y":1000},{"x":1250,"y":700},{"x":1270,"y":900},{"x":1290,"y":600},{"x":1310,"y":1100},{"x":1330,"y":800},{"x":1350,"y":1000},{"x":1370,"y":700},{"x":1390,"y":850},{"x":1240,"y":450},{"x":1300,"y":1200},{"x":1360,"y":500},
{"x":1410,"y":950},{"x":1440,"y":700},{"x":1470,"y":1050},{"x":1500,"y":850},{"x":1530,"y":1150},{"x":1560,"y":950},{"x":1590,"y":1250},{"x":1450,"y":1200},{"x":1520,"y":600},{"x":1580,"y":800},
{"x":1620,"y":1000},{"x":1660,"y":1150},{"x":1700,"y":950},{"x":1740,"y":1250},{"x":1780,"y":1050},{"x":1820,"y":900},{"x":1860,"y":1200},{"x":1900,"y":1000},{"x":1950,"y":1150},{"x":1990,"y":1300},
{"x":167,"y":1199},{"x":222,"y":1107},{"x":150,"y":1062},{"x":185,"y":1000},{"x":160,"y":900},{"x":200,"y":950},{"x":346,"y":1176},{"x":379,"y":1091},{"x":422,"y":1381},{"x":490,"y":1279},{"x":601,"y":1123},{"x":592,"y":1039},{"x":673,"y":1210},{"x":739,"y":1233},{"x":837,"y":1237},{"x":908,"y":1233},{"x":944,"y":1119},{"x":1059,"y":1388},{"x":1065,"y":1233},{"x":1183,"y":1388},{"x":1206,"y":1313},{"x":1131,"y":1169},{"x":1180,"y":1169},{"x":1261,"y":1164},{"x":1310,"y":1502},{"x":1346,"y":1479},
{"x":771,"y":1039},{"x":706,"y":982},{"x":542,"y":936},{"x":444,"y":913},{"x":346,"y":982},{"x":314,"y":913},{"x":248,"y":868},{"x":379,"y":822},{"x":510,"y":868},{"x":592,"y":799},{"x":216,"y":662},{"x":297,"y":753},{"x":412,"y":708},{"x":608,"y":753},{"x":706,"y":822},{"x":804,"y":925},{"x":869,"y":982},{"x":935,"y":1050},{"x":1033,"y":1073},{"x":1098,"y":1050},{"x":1163,"y":1004},{"x":967,"y":959},{"x":1065,"y":913},{"x":1196,"y":936},
{"x":1379,"y":1274},{"x":1458,"y":1347},{"x":1507,"y":1233},{"x":1556,"y":1336},{"x":1588,"y":1358},{"x":1425,"y":1233},{"x":1490,"y":1256},{"x":1539,"y":1199},{"x":1392,"y":1164},{"x":1327,"y":1107},{"x":1425,"y":1107},{"x":1294,"y":1050},{"x":1392,"y":1050},{"x":1523,"y":1119},{"x":1588,"y":1050},{"x":1654,"y":1073},{"x":1686,"y":1199},{"x":1719,"y":1274},{"x":1817,"y":1301},{"x":1784,"y":1233},{"x":1752,"y":1119},{"x":1850,"y":1073},{"x":1883,"y":1164},{"x":1981,"y":1313},{"x":2013,"y":1256},{"x":1964,"y":1107},{"x":1981,"y":1062},{"x":2029,"y":1073},{"x":2144,"y":1199},{"x":2095,"y":1027},
{"x":1261,"y":982},{"x":1359,"y":913},{"x":1458,"y":936},{"x":1556,"y":845},{"x":1529,"y":868},{"x":1490,"y":742},{"x":1588,"y":662},{"x":1556,"y":776},{"x":1425,"y":525},{"x":1474,"y":479},{"x":1409,"y":422},{"x":1343,"y":400},{"x":1376,"y":365},{"x":1359,"y":228},{"x":1327,"y":205},{"x":1261,"y":160},{"x":1180,"y":274},{"x":1163,"y":205},{"x":1245,"y":91},{"x":1294,"y":57},{"x":951,"y":57},{"x":1033,"y":68},{"x":1092,"y":11},{"x":859,"y":34},{"x":706,"y":23},{"x":542,"y":11},
{"x":1709,"y":788},{"x":1804,"y":788},{"x":1726,"y":680},{"x":1794,"y":651},{"x":1778,"y":582},{"x":1621,"y":400},{"x":1614,"y":342},{"x":1627,"y":274},{"x":1686,"y":411},{"x":1748,"y":331},{"x":1422,"y":160},{"x":1451,"y":148},{"x":1742,"y":23},{"x":1948,"y":479},{"x":1974,"y":445},{"x":1866,"y":434},{"x":2088,"y":776},{"x":1967,"y":765},{"x":1922,"y":840},{"x":2180,"y":616},{"x":2340,"y":297},{"x":2366,"y":852},{"x":2454,"y":1137},
{"x":1425,"y":799},{"x":1294,"y":753},{"x":1229,"y":639},{"x":1131,"y":571},{"x":1261,"y":502},{"x":1098,"y":388},{"x":1000,"y":297},{"x":1163,"y":434},{"x":1359,"y":616},{"x":1261,"y":365},{"x":967,"y":183},{"x":1098,"y":137},
{"x":3311,"y":2676},{"x":3229,"y":2607},{"x":2987,"y":2482},{"x":3085,"y":2347},{"x":2526,"y":2247},{"x":2552,"y":2157},{"x":2575,"y":2169},{"x":2111,"y":2119},{"x":2229,"y":2016},{"x":2693,"y":2014},{"x":2667,"y":1986},{"x":2781,"y":1945},{"x":2464,"y":1941},{"x":2111,"y":1913},{"x":2176,"y":1918},{"x":2216,"y":1945},{"x":2242,"y":1884},{"x":2291,"y":1888},{"x":2134,"y":1808},{"x":2497,"y":1849},{"x":2471,"y":1804},{"x":2454,"y":1799},{"x":2595,"y":1767},{"x":2395,"y":1744},{"x":1209,"y":1902},{"x":1791,"y":1717},{"x":1768,"y":1685},{"x":1592,"y":1641},{"x":1984,"y":1623},{"x":2229,"y":1623},{"x":2333,"y":1644},{"x":2719,"y":1598},{"x":2873,"y":1568},{"x":2493,"y":1514},{"x":1902,"y":1559},{"x":1467,"y":1539},{"x":1686,"y":1536},{"x":2062,"y":1536},{"x":2291,"y":1552},{"x":2275,"y":1507},{"x":2242,"y":1461},{"x":2160,"y":1484},{"x":2193,"y":1404},{"x":2023,"y":1461},{"x":1699,"y":1484},{"x":1739,"y":1452},{"x":1778,"y":1457},{"x":1693,"y":1411},{"x":1641,"y":1447},{"x":1905,"y":1358},{"x":2029,"y":1354},{"x":2229,"y":1365},{"x":2242,"y":1393},{"x":2356,"y":1354},{"x":2216,"y":1283},{"x":2307,"y":1290},{"x":2275,"y":1199},{"x":2219,"y":1078},
{"x":155,"y":25},{"x":162,"y":110},{"x":170,"y":190},{"x":178,"y":270},{"x":186,"y":350},{"x":194,"y":60},{"x":202,"y":140},{"x":210,"y":230},{"x":218,"y":320},{"x":226,"y":410},{"x":234,"y":45},{"x":242,"y":125},{"x":250,"y":205},{"x":258,"y":285},{"x":266,"y":365},{"x":274,"y":15},{"x":282,"y":95},{"x":290,"y":175},{"x":298,"y":255},{"x":306,"y":335},{"x":314,"y":430},{"x":322,"y":70},{"x":330,"y":160},{"x":338,"y":240},{"x":346,"y":320},{"x":354,"y":400},{"x":362,"y":30},{"x":370,"y":115},{"x":378,"y":195},{"x":386,"y":275},{"x":394,"y":355},{"x":402,"y":440},{"x":410,"y":85},{"x":418,"y":170},{"x":426,"y":250},{"x":434,"y":330},{"x":442,"y":410},{"x":448,"y":50},{"x":158,"y":400},{"x":166,"y":300},{"x":174,"y":200},{"x":182,"y":100},{"x":190,"y":20},{"x":198,"y":420},{"x":206,"y":340},{"x":214,"y":260},{"x":222,"y":180},{"x":230,"y":100},{"x":238,"y":440},{"x":246,"y":360},{"x":254,"y":280},{"x":262,"y":200},{"x":270,"y":120},{"x":278,"y":40},{"x":286,"y":390},{"x":294,"y":310},{"x":302,"y":230},{"x":310,"y":150},{"x":318,"y":70},{"x":326,"y":380},
{"x":455,"y":130},{"x":465,"y":260},{"x":475,"y":390},{"x":485,"y":520},{"x":495,"y":60},{"x":505,"y":200},{"x":515,"y":330},{"x":525,"y":460},{"x":535,"y":590},{"x":545,"y":110},{"x":555,"y":240},{"x":565,"y":370},{"x":575,"y":500},{"x":585,"y":620},{"x":595,"y":40},{"x":605,"y":170},{"x":615,"y":300},{"x":625,"y":430},{"x":635,"y":560},{"x":645,"y":90},{"x":655,"y":220},{"x":665,"y":350},{"x":675,"y":480},{"x":685,"y":610},{"x":695,"y":140},{"x":705,"y":270},{"x":715,"y":400},{"x":725,"y":530},{"x":735,"y":60},{"x":745,"y":190},{"x":755,"y":320},{"x":765,"y":450},{"x":775,"y":580},{"x":785,"y":110},{"x":795,"y":240},{"x":805,"y":370},{"x":815,"y":500},{"x":825,"y":630},{"x":835,"y":160},{"x":845,"y":290},{"x":460,"y":600},{"x":500,"y":450},{"x":540,"y":300},{"x":580,"y":150},{"x":620,"y":30},{"x":660,"y":500},{"x":700,"y":380},{"x":740,"y":250},{"x":780,"y":120},{"x":820,"y":420},
{"x":610,"y":700},{"x":625,"y":850},{"x":640,"y":580},{"x":655,"y":930},{"x":670,"y":650},{"x":685,"y":780},{"x":700,"y":900},{"x":715,"y":620},{"x":730,"y":750},{"x":745,"y":970},{"x":760,"y":560},{"x":775,"y":690},{"x":790,"y":840},{"x":805,"y":960},{"x":820,"y":600},{"x":835,"y":730},{"x":850,"y":880},{"x":865,"y":520},{"x":880,"y":650},{"x":895,"y":780},{"x":910,"y":930},{"x":925,"y":600},{"x":940,"y":720},{"x":955,"y":870},{"x":970,"y":500},{"x":985,"y":640},{"x":1000,"y":780},{"x":1015,"y":930},{"x":1030,"y":560},{"x":1045,"y":700},{"x":1060,"y":850},{"x":1075,"y":620},{"x":1090,"y":760},{"x":1105,"y":900},{"x":1120,"y":680},{"x":1135,"y":820},{"x":1150,"y":560},{"x":1165,"y":950},{"x":1180,"y":720},{"x":1195,"y":860},
{"x":148,"y":15},{"x":155,"y":85},{"x":152,"y":165},{"x":160,"y":235},{"x":146,"y":310},{"x":158,"y":385},{"x":150,"y":470},
{"x":188,"y":30},{"x":195,"y":100},{"x":185,"y":170},{"x":198,"y":245},{"x":192,"y":320},{"x":186,"y":400},{"x":196,"y":490},
{"x":228,"y":20},{"x":236,"y":95},{"x":226,"y":175},{"x":240,"y":250},{"x":232,"y":330},{"x":224,"y":410},{"x":238,"y":500},
{"x":268,"y":35},{"x":276,"y":110},{"x":266,"y":185},{"x":280,"y":260},{"x":272,"y":340},{"x":264,"y":420},{"x":278,"y":510},
{"x":308,"y":25},{"x":316,"y":105},{"x":306,"y":180},{"x":320,"y":265},{"x":312,"y":345},{"x":304,"y":430},{"x":318,"y":520},
{"x":348,"y":40},{"x":356,"y":115},{"x":346,"y":195},{"x":360,"y":275},{"x":352,"y":355},{"x":344,"y":440},{"x":358,"y":540},
{"x":388,"y":30},{"x":396,"y":120},{"x":386,"y":200},{"x":400,"y":285},{"x":392,"y":365},{"x":384,"y":450},{"x":398,"y":560},
{"x":428,"y":50},{"x":436,"y":130},{"x":426,"y":210},{"x":440,"y":295},{"x":432,"y":380},{"x":424,"y":465},{"x":438,"y":570},
{"x":468,"y":45},{"x":476,"y":140},{"x":466,"y":225},{"x":480,"y":310},{"x":472,"y":395},{"x":464,"y":480},{"x":478,"y":590},
{"x":508,"y":70},{"x":516,"y":150},{"x":506,"y":240},{"x":520,"y":325},{"x":512,"y":410},{"x":504,"y":500},{"x":518,"y":610},
{"x":548,"y":60},{"x":556,"y":160},{"x":546,"y":255},{"x":560,"y":340},{"x":552,"y":425},{"x":544,"y":520},{"x":558,"y":630},
{"x":588,"y":90},{"x":596,"y":175},{"x":586,"y":270},{"x":600,"y":355},{"x":592,"y":445},{"x":584,"y":540},{"x":598,"y":650},
{"x":628,"y":80},{"x":636,"y":190},{"x":626,"y":285},{"x":640,"y":370},{"x":632,"y":460},{"x":624,"y":560},{"x":638,"y":670},
{"x":668,"y":110},{"x":676,"y":200},{"x":666,"y":300},{"x":680,"y":390},{"x":672,"y":480},{"x":664,"y":580},{"x":678,"y":690}
]},
"hconcat":[
{"width":381,"height":438,"title":{"text":"a Face(n=6182 trials)"},
"layer":[
{"data":{"name":"a"},"mark":{"type":"point","shape":"circle","filled":false,"size":45,"stroke":"black","strokeOpacity":0.72,"strokeWidth":1.35},
"encoding":{"x":{"field":"x","type":"quantitative","title":"AOI Dwell Time (ms)","scale":{"domain":[-437,5966],"nice":false,"zero":false},"axis":{"values":[0,2000,4000],"format":"d"}},
"y":{"field":"y","type":"quantitative","title":"WSD (a.u.)","scale":{"domain":[-309,4351],"nice":false,"zero":false},"axis":{"values":[0,1000,2000,3000,4000],"format":"d"}}}},
{"data":{"values":[{"x":0,"lo":230,"hi":260},{"x":2840,"lo":1804,"hi":1816},{"x":5680,"lo":3358,"hi":3394}]},"mark":{"type":"area","color":"#56B4E9","opacity":0.35},
"encoding":{"x":{"field":"x","type":"quantitative","title":"AOI Dwell Time (ms)"},"y":{"field":"lo","type":"quantitative","title":"WSD (a.u.)"},"y2":{"field":"hi"}}},
{"data":{"values":[{"x":0,"y":245},{"x":5680,"y":3376}]},"mark":{"type":"line","color":"#56B4E9","strokeWidth":2.6},
"encoding":{"x":{"field":"x","type":"quantitative","title":"AOI Dwell Time (ms)"},"y":{"field":"y","type":"quantitative","title":"WSD (a.u.)"}}},
{"data":{"values":[{"x1":-173,"x2":163,"y1":-103,"y2":1904}]},"mark":{"type":"rect","filled":false,"stroke":"#E69F00","strokeWidth":3.3},
"encoding":{"x":{"field":"x1","type":"quantitative","title":"AOI Dwell Time (ms)"},"x2":{"field":"x2"},"y":{"field":"y1","type":"quantitative","title":"WSD (a.u.)"},"y2":{"field":"y2"}}}
]},
{"width":382,"height":438,"title":{"text":"b Point of Contact(n=3185 trials)"},
"layer":[
{"data":{"name":"b"},"mark":{"type":"point","shape":"circle","filled":false,"size":45,"stroke":"black","strokeOpacity":0.72,"strokeWidth":1.35},
"encoding":{"x":{"field":"x","type":"quantitative","title":"AOI Dwell Time (ms)","scale":{"domain":[-275,3477],"nice":false,"zero":false},"axis":{"values":[0,1000,2000,3000],"format":"d"}},
"y":{"field":"y","type":"quantitative","title":"WSD (a.u.)","scale":{"domain":[-187,2813],"nice":false,"zero":false},"axis":{"values":[0,1000,2000],"format":"d"}}}},
{"data":{"values":[{"x":0,"lo":50,"hi":86},{"x":550,"lo":365,"hi":389},{"x":1100,"lo":676,"hi":696},{"x":1650,"lo":982,"hi":1008},{"x":2200,"lo":1286,"hi":1322},{"x":2750,"lo":1588,"hi":1640},{"x":3304,"lo":1889,"hi":1961}]},"mark":{"type":"area","color":"#56B4E9","opacity":0.35},
"encoding":{"x":{"field":"x","type":"quantitative","title":"AOI Dwell Time (ms)"},"y":{"field":"lo","type":"quantitative","title":"WSD (a.u.)"},"y2":{"field":"hi"}}},
{"data":{"values":[{"x":0,"y":68},{"x":3304,"y":1925}]},"mark":{"type":"line","color":"#56B4E9","strokeWidth":2.6},
"encoding":{"x":{"field":"x","type":"quantitative","title":"AOI Dwell Time (ms)"},"y":{"field":"y","type":"quantitative","title":"WSD (a.u.)"}}},
{"data":{"values":[{"x1":-108,"x2":111,"y1":-55,"y2":1310}]},"mark":{"type":"rect","filled":false,"stroke":"#E69F00","strokeWidth":3.3},
"encoding":{"x":{"field":"x1","type":"quantitative","title":"AOI Dwell Time (ms)"},"x2":{"field":"x2"},"y":{"field":"y1","type":"quantitative","title":"WSD (a.u.)"},"y2":{"field":"y2"}}}
]}
]
}
